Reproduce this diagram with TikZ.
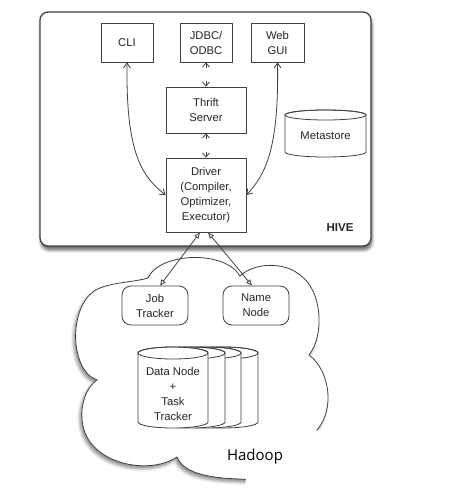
\documentclass[tikz,border=0pt]{standalone}
\usepackage{fontspec}
\setmainfont{Liberation Sans}
\newfontfamily\hadoopfont{Open Sans}
\usetikzlibrary{arrows.meta,shadows.blur,calc}

\begin{document}
\begin{tikzpicture}[x=1bp,y=-1bp,
  font=\fontsize{11.25bp}{15bp}\selectfont,
  ln/.style={draw=black!75, line width=0.8bp},
  sq/.style={ln, fill=white, inner sep=0pt, align=center, text=black!85, minimum height=39bp},
  rb/.style={sq, rounded corners=9bp},
  txt/.style={inner sep=0pt, align=center, text=black!85},
  barb/.style={ln, {Straight Barb[length=5bp,width=7bp]}-{Straight Barb[length=5bp,width=7bp]}},
  headonly/.style={ln, -{Straight Barb[length=4bp,width=7bp]}},
  dblout/.style={draw=black!75, line width=2.6bp, shorten <=3.5bp, shorten >=3.5bp},
  dblin/.style={draw=white, line width=1.1bp, shorten <=2.5bp, shorten >=2.5bp},
  tri/.style={ln, {Triangle[open,length=6bp,width=5bp]}-{Triangle[open,length=6bp,width=5bp]}},
  cylfill/.style={ln, fill=white}
]
\useasboundingbox (0,0) rectangle (467,502);

% ---------- Hadoop cloud ----------
\filldraw[ln, fill=white, blur shadow={shadow xshift=-2bp, shadow yshift=-3bp, shadow blur radius=3bp, shadow opacity=45}]
  (148,278) .. controls (160,252) and (225,250) .. (240,276)
  .. controls (255,262) and (285,262) .. (300,275)
  .. controls (322,290) and (325,335) .. (309,355)
  .. controls (330,370) and (338,415) .. (310,437)
  .. controls (312,475) and (270,482) .. (240,479)
  .. controls (205,478) and (183,472) .. (177,457)
  .. controls (150,475) and (95,465) .. (84,430)
  .. controls (78,410) and (85,388) .. (97,380)
  .. controls (68,370) and (68,300) .. (100,288)
  .. controls (115,282) and (135,282) .. (148,278) -- cycle;

% ---------- HIVE box ----------
\draw[ln, line width=1.3bp, rounded corners=8bp, fill=white,
      blur shadow={shadow xshift=1bp, shadow yshift=-4bp, shadow blur radius=3bp, shadow opacity=60}]
  (40,12) rectangle (371,246);
\node[txt, font=\fontsize{11.5bp}{14bp}\selectfont\bfseries] (hive) at (340,228) {HIVE};

% ---------- HIVE components ----------
\node[sq, minimum width=52bp] (cli)  at (127,42.5) {CLI};
\node[sq, minimum width=52bp] (jdbc) at (206,42.5) {JDBC/\\ODBC};
\node[sq, minimum width=53bp] (web)  at (277.5,42.5) {Web\\GUI};
\node[sq, minimum width=80bp, minimum height=46bp] (thrift) at (206,110) {Thrift\\Server};
\node[sq, minimum width=80bp, minimum height=74bp] (driver) at (206,195) {Driver\\(Compiler,\\Optimizer,\\Executor)};

% Metastore cylinder
\draw[cylfill] (285,115) -- (285,152) arc[start angle=180, end angle=360, x radius=40.5bp, y radius=5bp]
  -- (366,115) arc[start angle=0, end angle=180, x radius=40.5bp, y radius=5bp] -- cycle;
\draw[ln] (325.5,115) ellipse [x radius=40.5bp, y radius=5bp];
\node[txt] (meta) at (325.5,136) {Metastore};

% ---------- Hadoop components ----------
\node[rb, minimum width=66bp] (jt) at (155,305.5) {Job\\Tracker};
\node[rb, minimum width=66bp] (nn) at (256,305.5) {Name\\Node};

% Data node cylinders (back to front)
\foreach \xl in {188,171,155,138}{
  \draw[cylfill] (\xl,353) -- (\xl,422) arc[start angle=180, end angle=360, x radius=35bp, y radius=6bp]
    -- (\xl+70,353) arc[start angle=0, end angle=180, x radius=35bp, y radius=6bp] -- cycle;
  \draw[ln] (\xl+35,353) ellipse [x radius=35bp, y radius=6bp];
}
\node[txt] (dn) at (173,393.5) {Data Node\\+\\Task\\Tracker};

% white patch behind label
\fill[white] (228,441) -- (262,433) -- (312,431) -- (362,425) -- (362,495) -- (244,495) -- (246,479) -- (236,470) -- cycle;
\node[txt, text=black, font=\hadoopfont\fontsize{15bp}{18bp}\selectfont] (hadoop) at (255,457) {Hadoop};

% ---------- connectors ----------
\draw[barb] (cli.south) .. controls (126,150) and (140,175) .. (driver.west);
\draw[barb] (web.south) .. controls (279,150) and (265,175) .. (driver.east);
% double-line two-way arrows
\foreach \a/\b in {jdbc.south/thrift.north, thrift.south/driver.north}{
  \draw[dblout] (\a) -- (\b);
  \draw[dblin] (\a) -- (\b);
  \draw[headonly] ($(\a)!6bp!(\b)$) -- (\a);
  \draw[headonly] ($(\b)!6bp!(\a)$) -- (\b);
}
\draw[tri] ([xshift=-6bp]driver.south) -- ([xshift=5bp]jt.north);
\draw[tri] ([xshift=2bp]driver.south) -- ([xshift=-4bp]nn.north);
\end{tikzpicture}
\end{document}
